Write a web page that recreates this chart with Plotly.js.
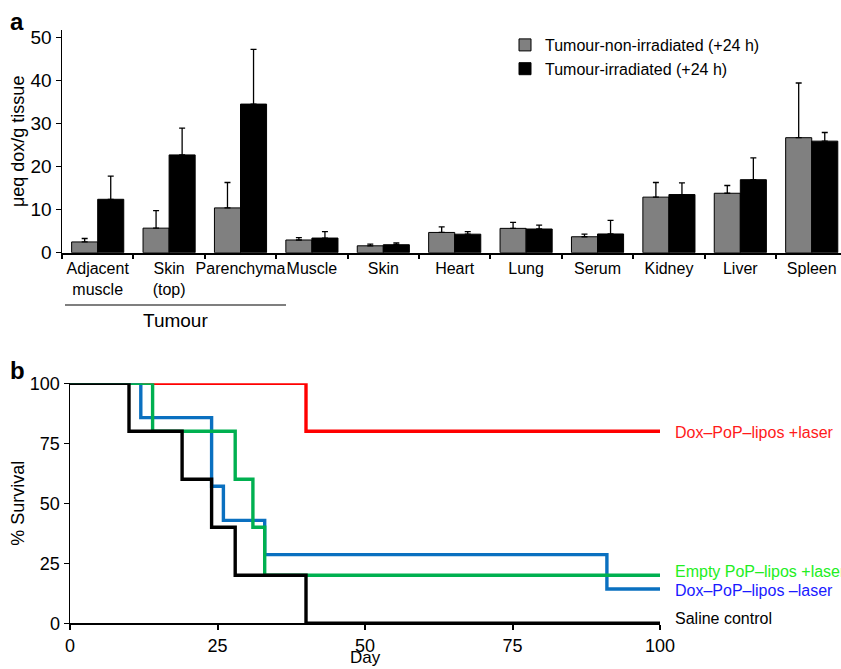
<!DOCTYPE html>
<html>
<head>
<meta charset="utf-8">
<script src="https://cdn.plot.ly/plotly-3.0.1.min.js"></script>
<style>html,body{margin:0;padding:0;background:#fff;}#chart{width:841px;height:669px;}</style>
</head>
<body>
<div id="chart"></div>
<script>
// ---- Panel a data ----
var categories = ["Adjacent<br>muscle", "Skin<br>(top)", "Parenchyma", "Muscle", "Skin", "Heart", "Lung", "Serum", "Kidney", "Liver", "Spleen"];
var nonIrrValues = [2.5, 5.7, 10.4, 2.95, 1.6, 4.7, 5.65, 3.7, 12.9, 13.8, 26.7];
var nonIrrErr    = [0.8, 4.05, 5.9, 0.55, 0.4, 1.3, 1.4, 0.6, 3.4, 1.8, 12.7];
var irrValues    = [12.4, 22.7, 34.5, 3.4, 1.85, 4.3, 5.5, 4.35, 13.5, 16.95, 25.9];
var irrErr       = [5.4, 6.2, 12.7, 1.5, 0.4, 0.6, 0.9, 3.15, 2.7, 5.05, 2.0];
var seriesNames = ["Tumour-non-irradiated (+24 h)", "Tumour-irradiated (+24 h)"];

// ---- Panel b data (Kaplan-Meier steps) ----
var redDays   = [0, 40, 40, 100];
var redSurv   = [100, 100, 80, 80];
var greenDays = [0, 14, 14, 28, 28, 31, 31, 33, 33, 100];
var greenSurv = [100, 100, 80, 80, 60, 60, 40, 40, 20, 20];
var blueDays  = [0, 12, 12, 24, 24, 26, 26, 33, 33, 91, 91, 100];
var blueSurv  = [100, 100, 85.7, 85.7, 57.1, 57.1, 42.9, 42.9, 28.6, 28.6, 14.3, 14.3];
var blackDays = [0, 10, 10, 19, 19, 24, 24, 28, 28, 40, 40, 100];
var blackSurv = [100, 100, 80, 80, 60, 60, 40, 40, 20, 20, 0, 0];
var curveNames = ["Dox–PoP–lipos +laser", "Empty PoP–lipos +laser", "Dox–PoP–lipos –laser", "Saline control"];

var FONT = "Liberation Sans, Arial, Helvetica, sans-serif";
var W = 841, H = 669;
function py(p){ return (H - p) / H; }
function px(p){ return p / W; }

function zeros(n){ var a=[]; for(var i=0;i<n;i++) a.push(0); return a; }

var traces = [
  {type:'bar', x:categories, y:nonIrrValues, name:seriesNames[0], xaxis:'x', yaxis:'y',
   marker:{color:'#808080', line:{color:'#000', width:1}},
   error_y:{type:'data', symmetric:false, array:nonIrrErr, arrayminus:zeros(11), color:'#000', thickness:1.3, width:3}},
  {type:'bar', x:categories, y:irrValues, name:seriesNames[1], xaxis:'x', yaxis:'y',
   marker:{color:'#000000', line:{color:'#000', width:1}},
   error_y:{type:'data', symmetric:false, array:irrErr, arrayminus:zeros(11), color:'#000', thickness:1.3, width:3}},
  {type:'scatter', mode:'lines', x:redDays, y:redSurv, xaxis:'x2', yaxis:'y2', showlegend:false, cliponaxis:false,
   line:{color:'#ff0000', width:3.4}},
  {type:'scatter', mode:'lines', x:blueDays, y:blueSurv, xaxis:'x2', yaxis:'y2', showlegend:false, cliponaxis:false,
   line:{color:'#0a70c0', width:3.4}},
  {type:'scatter', mode:'lines', x:greenDays, y:greenSurv, xaxis:'x2', yaxis:'y2', showlegend:false, cliponaxis:false,
   line:{color:'#00b050', width:3.4}},
  {type:'scatter', mode:'lines', x:blackDays, y:blackSurv, xaxis:'x2', yaxis:'y2', showlegend:false, cliponaxis:false,
   line:{color:'#000000', width:3.4}}
];

var labelColors = ['#ff1a1a', '#22ee22', '#1a1aff', '#000000'];
var labelPixY = [432, 571, 590, 618];

var annotations = [
  {text:'<b>a</b>', xref:'paper', yref:'paper', x:px(8), y:py(6), xanchor:'left', yanchor:'top', showarrow:false, font:{family:FONT, size:24, color:'#000'}},
  {text:'<b>b</b>', xref:'paper', yref:'paper', x:px(8), y:py(355), xanchor:'left', yanchor:'top', showarrow:false, font:{family:FONT, size:24, color:'#000'}},
  {text:'Tumour', xref:'paper', yref:'paper', x:px(175), y:py(320), xanchor:'center', yanchor:'middle', showarrow:false, font:{family:FONT, size:19, color:'#000'}},
  {text:'Day', xref:'paper', yref:'paper', x:px(365), y:py(669), xanchor:'center', yanchor:'bottom', showarrow:false, font:{family:FONT, size:17, color:'#000'}}
];
for (var i=0;i<4;i++){
  annotations.push({text:curveNames[i], xref:'paper', yref:'paper', x:px(673), y:py(labelPixY[i]), xanchor:'left', yanchor:'middle', showarrow:false,
    font:{family:FONT, size:16, color:labelColors[i]}});
}

var layout = {
  width:W, height:H, margin:{l:0,r:0,t:0,b:0}, paper_bgcolor:'#fff', plot_bgcolor:'#fff',
  font:{family:FONT, color:'#000'},
  barmode:'group', bargap:0.27, bargroupgap:0,
  showlegend:true,
  legend:{x:px(505), y:py(28), xanchor:'left', yanchor:'top', font:{family:FONT, size:16}, bgcolor:'rgba(0,0,0,0)', itemwidth:30, tracegroupgap:1},
  xaxis:{domain:[px(62),1], range:[-0.5, 10.41], type:'category', showline:true, linecolor:'#000', linewidth:2,
    ticks:'outside', tickson:'boundaries', ticklen:4, tickwidth:2, tickcolor:'#000', tickangle:0,
    tickfont:{family:FONT, size:16}, showgrid:false, zeroline:false, fixedrange:true},
  yaxis:{domain:[py(252.7), py(30)], range:[0, 51.7], showline:true, linecolor:'#000', linewidth:1.5,
    ticks:'outside', ticklen:5, tickwidth:1.5, tickcolor:'#000', tickvals:[0,10,20,30,40,50],
    tickfont:{family:FONT, size:19}, showgrid:false, zeroline:false,
    title:{text:'μeq dox/g tissue', font:{family:FONT, size:18}, standoff:1}},
  xaxis2:{domain:[px(70), px(660)], range:[0,100], anchor:'y2', showline:true, linecolor:'#000', linewidth:2,
    ticks:'outside', ticklen:5, tickwidth:2, tickcolor:'#000', tickvals:[0,25,50,75,100],
    tickfont:{family:FONT, size:18}, showgrid:false, zeroline:false},
  yaxis2:{domain:[py(623.3), py(383.3)], range:[0,100], anchor:'x2', showline:true, linecolor:'#000', linewidth:1.5,
    ticks:'outside', ticklen:5, tickwidth:1.5, tickcolor:'#000', tickvals:[0,25,50,75,100],
    tickfont:{family:FONT, size:18}, showgrid:false, zeroline:false,
    title:{text:'% Survival', font:{family:FONT, size:18}, standoff:0}},
  shapes:[
    {type:'line', xref:'paper', yref:'paper', x0:px(65), x1:px(286), y0:py(305), y1:py(305), line:{color:'#000', width:1.2}}
  ],
  annotations:annotations
};

Plotly.newPlot('chart', traces, layout, {staticPlot:true, displayModeBar:false});
</script>
</body>
</html>
